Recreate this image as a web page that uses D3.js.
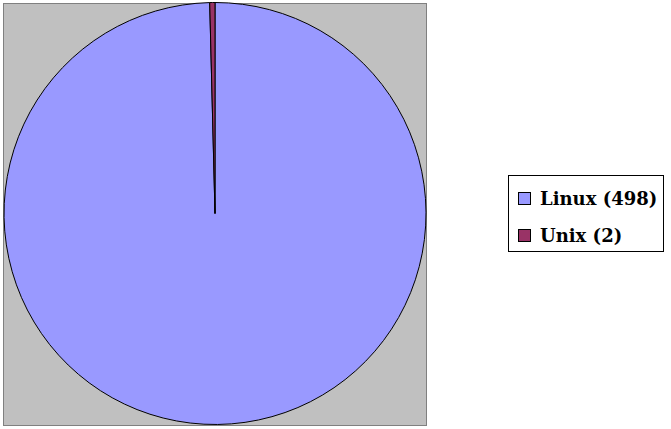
<!DOCTYPE html>
<html>
    <head>
        <meta charset="UTF-8">
        <script src="https://d3js.org/d3.v7.min.js"></script>
        <style>
            body { margin: 0; background: #ffffff; }
            .legend-label { font-family: "DejaVu Serif", serif; font-weight: bold; font-size: 18px; }
        </style>
    </head>
    <body>
        <svg id="canvas"></svg>
        <script>
            width = 671;
            height = 429;

            labels = ["Linux", "Unix"];
            counts = [498, 2];
            colors = ["#9999ff", "#993366"];

            // plot area (grey box) and pie geometry
            plot = { x: 3.5, y: 3.5, w: 423, h: 422 };
            cx = 215;
            cy = 213.5;
            radius = 211;

            canvas = d3.select("#canvas")
                .attr("width", width)
                .attr("height", height);

            canvas.append("rect")
                .attr("x", plot.x)
                .attr("y", plot.y)
                .attr("width", plot.w)
                .attr("height", plot.h)
                .attr("style", "fill:#c0c0c0; stroke:#808080; stroke-width:1;");

            data = labels.map((l, i) => ({ label: l, value: counts[i], color: colors[i] }));

            pie = d3.pie()
                .sort(null)
                .value((d) => d.value);

            arc = d3.arc()
                .innerRadius(0)
                .outerRadius(radius);

            canvas.append("g")
                .attr("transform", "translate(" + cx + "," + cy + ")")
                .selectAll("path")
                .data(pie(data))
                .enter()
                    .append("path")
                        .attr("d", arc)
                        .attr("fill", (d) => d.data.color)
                        .attr("style", "stroke:black; stroke-width:1;");

            // legend
            legend = canvas.append("g");

            legend.append("rect")
                .attr("x", 508.5)
                .attr("y", 175.5)
                .attr("width", 155)
                .attr("height", 76)
                .attr("style", "fill:white; stroke:black; stroke-width:1;");

            item = legend.selectAll("g.item")
                .data(data)
                .enter()
                    .append("g")
                    .attr("class", "item")
                    .attr("transform", (d, i) => "translate(518," + (192 + i * 37) + ")");

            item.append("rect")
                .attr("x", 0.5)
                .attr("y", 0.5)
                .attr("width", 12)
                .attr("height", 12)
                .attr("fill", (d) => d.color)
                .attr("style", "stroke:black; stroke-width:1;");

            item.append("text")
                .attr("class", "legend-label")
                .attr("x", 22)
                .attr("y", 12.5)
                .text((d) => d.label + " (" + d.value + ")");
        </script>
    </body>
</html>
